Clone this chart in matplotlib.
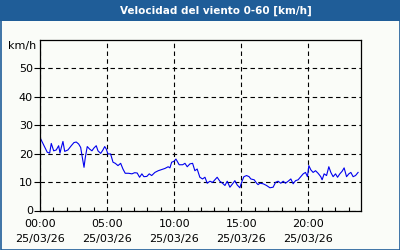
import matplotlib
matplotlib.use("Agg")
import matplotlib.pyplot as plt
from matplotlib.patches import Rectangle

# wind speed samples: hour of day, km/h
hours = [0.05, 0.30, 0.54, 0.72, 0.84, 1.02, 1.21, 1.39, 1.49, 1.59, 1.71, 1.84,
         2.08, 2.33, 2.53, 2.70, 2.88, 3.03, 3.13, 3.28, 3.37, 3.52, 3.70, 3.87,
         4.02, 4.19, 4.32, 4.52, 4.69, 4.82, 4.94, 5.06, 5.26, 5.44, 5.61, 5.81,
         6.01, 6.18, 6.35, 6.60, 6.85, 7.05, 7.24, 7.42, 7.59, 7.74, 7.96, 8.14,
         8.32, 8.56, 8.81, 9.06, 9.31, 9.55, 9.68, 9.81, 9.98, 10.13, 10.37, 10.63,
         10.80, 10.97, 11.17, 11.37, 11.54, 11.71, 11.91, 12.11, 12.29, 12.46, 12.66,
         12.86, 13.03, 13.20, 13.40, 13.60, 13.78, 13.95, 14.15, 14.35, 14.52, 14.69,
         14.89, 15.02, 15.19, 15.39, 15.58, 15.71, 15.96, 16.14, 16.25, 16.38, 16.63,
         16.88, 17.13, 17.37, 17.55, 17.74, 17.94, 18.12, 18.29, 18.49, 18.69, 18.86,
         19.04, 19.23, 19.43, 19.61, 19.78, 19.93, 20.03, 20.18, 20.35, 20.53, 20.72,
         20.92, 21.02, 21.17, 21.35, 21.52, 21.67, 21.84, 22.02, 22.17, 22.34, 22.51,
         22.66, 22.84, 23.01, 23.16, 23.33, 23.51, 23.70]
speed = [25.2, 22.8, 20.5, 20.2, 23.6, 21.0, 21.3, 22.8, 20.2, 22.2, 24.3, 20.8,
         21.3, 22.8, 23.9, 24.1, 23.4, 22.2, 19.3, 15.2, 18.5, 22.5, 21.6, 21.0,
         22.0, 22.8, 21.0, 20.1, 21.3, 22.5, 21.6, 19.9, 19.9, 17.0, 16.6, 15.8,
         16.6, 14.6, 13.1, 13.1, 12.9, 13.3, 13.2, 11.7, 12.9, 11.9, 12.0, 12.9,
         12.3, 13.4, 14.0, 14.4, 14.8, 15.4, 15.0, 17.0, 17.3, 18.1, 16.1, 16.1,
         16.6, 15.4, 16.4, 16.6, 14.0, 14.6, 11.7, 11.1, 11.7, 9.6, 10.3,
         9.9, 10.8, 11.7, 10.3, 9.6, 8.8, 10.3, 8.2, 9.4, 10.5, 9.0,
         8.0, 9.9, 11.9, 12.3, 11.9, 11.1, 10.8, 9.6, 9.1, 9.6, 9.4,
         8.8, 8.0, 8.2, 9.9, 10.3, 9.6, 10.3, 9.6, 10.3, 11.1, 9.4,
         10.5, 10.8, 11.9, 12.9, 13.4, 11.9, 15.8, 14.3, 13.4, 14.0, 13.1,
         11.9, 10.8, 12.9, 12.3, 15.4, 13.4, 11.9, 12.9, 11.7, 12.9, 13.8,
         15.0, 11.9, 12.9, 13.4, 11.9, 12.3, 13.4]

major_hours = [0, 5, 10, 15, 20]
major_labels = ["00:00\n25/03/26", "05:00\n25/03/26", "10:00\n25/03/26",
                "15:00\n25/03/26", "20:00\n25/03/26"]
y_ticks = [0, 10, 20, 30, 40, 50]

bg = "#fafcf8"
bar = "#1f5d98"

fig = plt.figure(figsize=(4, 2.5), dpi=100, facecolor=bg)

# title bar and frame
fig.patches.append(Rectangle((0, 1 - 21 / 250), 1, 21 / 250, transform=fig.transFigure,
                             facecolor=bar, edgecolor="none", zorder=0))
fig.patches.append(Rectangle((0.5 / 400, 0.5 / 250), 399 / 400, 249 / 250, transform=fig.transFigure,
                             facecolor="none", edgecolor=bar, lw=1.2, zorder=1))
fig.text(216 / 400, 1 - 10.5 / 250, "Velocidad del viento 0-60 [km/h]", color="white",
         fontsize=7.5, fontweight="bold", ha="center", va="center")

ax = fig.add_axes([40 / 400, 39.5 / 250, 320.5 / 400, 170.5 / 250])
ax.set_facecolor(bg)
ax.plot(hours, speed, color="#0000ee", lw=0.8)

ax.set_xlim(0, 23.88)
ax.set_ylim(0, 60)
ax.set_xticks(major_hours)
ax.set_xticklabels(major_labels, fontsize=8, linespacing=1.7)
ax.set_xticks(range(1, 24), minor=True)
ax.set_yticks(y_ticks)
ax.set_yticklabels([str(v) for v in y_ticks], fontsize=8)
ax.tick_params(axis="x", which="major", length=0, pad=6)
ax.tick_params(axis="x", which="minor", direction="in", length=3, width=0.8)
ax.tick_params(axis="y", direction="out", length=4, width=0.8, pad=1)
ax.grid(True, which="major", color="black", lw=0.8, linestyle=(0, (4, 3)))
for s in ax.spines.values():
    s.set_linewidth(0.9)
    s.set_color("black")

ax.text(-0.012, 0.965, "km/h", transform=ax.transAxes, fontsize=8, ha="right", va="center")

fig.savefig("out.png", dpi=100, facecolor=bg)
